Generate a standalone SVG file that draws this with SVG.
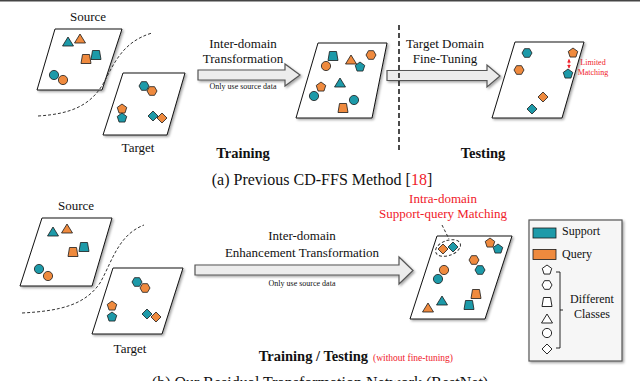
<svg xmlns="http://www.w3.org/2000/svg" xmlns:xlink="http://www.w3.org/1999/xlink" width="640" height="381" viewBox="0 0 640 381">
<defs>
<style>
text{font-family:"Liberation Serif","Times New Roman",serif;fill:#111}
.lbl{font-size:13px;text-anchor:middle}
.sm{font-size:8px;text-anchor:middle}
.bold{font-size:14.5px;font-weight:bold;text-anchor:middle}
.red{fill:#f0202a}
.plane{fill:#fff;stroke:#111;stroke-width:1;filter:url(#sh)}
.t{fill:#1d9aa9;stroke:#1a1a1a;stroke-width:0.8}
.o{fill:#ef8a3e;stroke:#1a1a1a;stroke-width:0.8}
.w{fill:#fff;stroke:#111;stroke-width:0.9}
.arrow{fill:#ececec;stroke:#555;stroke-width:1.2;filter:url(#sh)}
.dash{fill:none;stroke:#333;stroke-width:1;stroke-dasharray:3,2}
</style>
<filter id="sh" x="-10%" y="-10%" width="130%" height="130%">
<feDropShadow dx="1.5" dy="1.5" stdDeviation="0.8" flood-color="#000" flood-opacity="0.35"/>
</filter>
<path id="tri" d="M0,-5 L5.5,4 L-5.5,4Z"/>
<path id="trap" d="M-3.5,-4.5 L3.5,-4.5 L5,4.5 L-5,4.5Z"/>
<circle id="circ" r="4.6"/>
<path id="hex" d="M5,0 L2.5,4.33 L-2.5,4.33 L-5,0 L-2.5,-4.33 L2.5,-4.33Z"/>
<path id="pent" d="M0,-5 L4.76,-1.55 L2.94,4.05 L-2.94,4.05 L-4.76,-1.55Z"/>
<path id="dia" d="M0,-5 L5,0 L0,5 L-5,0Z"/>
<marker id="ra" viewBox="0 0 6 6" refX="5" refY="3" markerWidth="4" markerHeight="4" orient="auto-start-reverse">
<path d="M0,0 L6,3 L0,6Z" fill="#f0202a"/>
</marker>
</defs>
<rect width="640" height="381" fill="#fff"/>
<line x1="0" y1="0.8" x2="640" y2="0.8" stroke="#444" stroke-width="1.6"/>

<!-- ===== (a) ===== -->
<g id="a-source">
<text class="lbl" x="88" y="21">Source</text>
<polygon class="plane" points="55,29 122,29 102,90 37,90"/>
<use href="#tri" class="t" x="68" y="42"/>
<use href="#tri" class="o" x="80" y="39"/>
<use href="#trap" class="o" x="86" y="59"/>
<use href="#trap" class="t" x="96" y="55"/>
<use href="#circ" class="t" x="54" y="75"/>
<use href="#circ" class="o" x="63" y="80"/>
</g>
<g id="a-target">
<polygon class="plane" points="123,73 185,73 167,135 103,135"/>
<use href="#hex" class="t" x="144" y="86"/>
<use href="#hex" class="o" x="152" y="91"/>
<use href="#pent" class="o" x="122" y="109"/>
<use href="#pent" class="t" x="122" y="118"/>
<use href="#dia" class="t" x="153" y="116"/>
<use href="#dia" class="o" x="162" y="118"/>
<text class="lbl" x="138" y="152">Target</text>
</g>
<g id="a-transformed">
<polygon class="plane" points="318,43 387,43 372,118 296,118"/>
<use href="#trap" class="t" x="333" y="56"/>
<use href="#circ" class="o" x="326" y="66"/>
<use href="#tri" class="o" x="351" y="60"/>
<use href="#pent" class="t" x="360" y="67"/>
<use href="#hex" class="o" x="371" y="55"/>
<use href="#pent" class="o" x="321" y="87"/>
<use href="#circ" class="t" x="314" y="96"/>
<use href="#tri" class="t" x="340" y="83"/>
<use href="#circ" class="t" x="354" y="100"/>
<use href="#trap" class="o" x="343" y="108"/>
</g>
<g id="a-testing">
<polygon class="plane" points="515,42 584,42 562,118 492,118"/>
<use href="#hex" class="t" x="527" y="53"/>
<use href="#hex" class="o" x="519" y="70"/>
<use href="#pent" class="o" x="573" y="53"/>
<use href="#pent" class="t" x="568" y="74"/>
<use href="#dia" class="o" x="543" y="97"/>
<use href="#dia" class="t" x="532" y="109"/>
<text class="red" x="593" y="65" style="font-size:8px;text-anchor:middle;fill:#f0202a">Limited</text>
<text class="red" x="593" y="75" style="font-size:8px;text-anchor:middle;fill:#f0202a">Matching</text>
</g>
<g id="a-labels">
<text class="lbl" x="243" y="48">Inter-domain</text>
<text class="lbl" x="243" y="63">Transformation</text>
<text class="sm" x="243" y="89">Only use source data</text>
<text class="lbl" x="445" y="48">Target Domain</text>
<text class="lbl" x="445" y="63">Fine-Tuning</text>
<text class="bold" x="243" y="158">Training</text>
<text class="bold" x="483" y="158">Testing</text>
<text x="322" y="185" style="font-size:16px;text-anchor:middle">(a) Previous CD-FFS Method [<tspan fill="#f0202a">18</tspan>]</text>
</g>

<!-- ===== (b) ===== -->
<g id="b-source">
<text class="lbl" x="76" y="210">Source</text>
<polygon class="plane" points="42,218 112,218 92,286 20,286"/>
<use href="#tri" class="t" x="53" y="232"/>
<use href="#tri" class="o" x="67" y="229"/>
<use href="#trap" class="o" x="73" y="252"/>
<use href="#trap" class="t" x="84" y="247"/>
<use href="#circ" class="t" x="39" y="269"/>
<use href="#circ" class="o" x="48" y="276"/>
</g>
<g id="b-target">
<polygon class="plane" points="113,268 183,268 162,334 92,334"/>
<use href="#hex" class="t" x="137" y="282"/>
<use href="#hex" class="o" x="145" y="288"/>
<use href="#pent" class="o" x="112" y="306"/>
<use href="#pent" class="t" x="112" y="317"/>
<use href="#dia" class="t" x="147" y="314"/>
<use href="#dia" class="o" x="156" y="317"/>
<text class="lbl" x="130" y="353">Target</text>
</g>
<g id="b-result">
<polygon class="plane" points="437,236 512,236 485,319 410,319"/>
<use href="#dia" class="o" x="443" y="249"/>
<use href="#dia" class="t" x="453" y="247"/>
<use href="#pent" class="o" x="490" y="243"/>
<use href="#pent" class="t" x="498" y="249"/>
<use href="#hex" class="o" x="474" y="260"/>
<use href="#hex" class="t" x="480" y="270"/>
<use href="#circ" class="o" x="444" y="270"/>
<use href="#circ" class="t" x="438" y="279"/>
<use href="#trap" class="o" x="476" y="294"/>
<use href="#trap" class="t" x="469" y="305"/>
<use href="#tri" class="t" x="442" y="301"/>
<use href="#tri" class="o" x="428" y="308"/>
<ellipse cx="448" cy="248" rx="13" ry="7.5" transform="rotate(-20 448 248)" class="dash"/>
<line x1="442" y1="225" x2="449" y2="239" class="dash"/>
<text x="443" y="203" style="font-size:13px;text-anchor:middle;fill:#f0202a">Intra-domain</text>
<text x="443" y="218" style="font-size:13px;text-anchor:middle;fill:#f0202a">Support-query Matching</text>
</g>
<g id="b-labels">
<text class="lbl" x="302" y="240">Inter-domain</text>
<text class="lbl" x="302" y="257">Enhancement Transformation</text>
<text class="sm" x="302" y="286">Only use source data</text>
<text x="308" y="361" style="font-size:14.5px;font-weight:bold;text-anchor:end" dx="60">Training / Testing</text>
<text x="373" y="361" style="font-size:9.5px;fill:#f0202a">(without fine-tuning)</text>
<text x="320" y="388" style="font-size:16px;text-anchor:middle">(b) Our Residual Transformation Network (RestNet)</text>
</g>
<g id="legend">
<rect x="529" y="220" width="93" height="141" fill="#f6f6f6" stroke="#555" stroke-width="1.2" filter="url(#sh)"/>
<rect x="533" y="228" width="23" height="10" class="t"/>
<text x="562" y="235" style="font-size:12px">Support</text>
<rect x="533" y="249.5" width="23" height="10" class="o"/>
<text x="562" y="258" style="font-size:12px">Query</text>
<use href="#pent" class="w" x="547" y="270"/>
<use href="#hex" class="w" x="547" y="285"/>
<use href="#trap" class="w" x="547" y="302"/>
<use href="#tri" class="w" x="547" y="319"/>
<use href="#circ" class="w" x="547" y="333"/>
<use href="#dia" class="w" x="547" y="349"/>
<path d="M556,272 H560 V348 H556 M560,310 H563" fill="none" stroke="#111" stroke-width="0.9"/>
<text x="592" y="303" style="font-size:12px;text-anchor:middle">Different</text>
<text x="592" y="318" style="font-size:12px;text-anchor:middle">Classes</text>
</g>

<g id="connectors">
<path class="dash" d="M38,116 C70,114 90,106 103,84 C114,64 122,42 152,33"/>
<path class="dash" d="M22,313 C60,311 85,305 100,283 C112,262 118,235 144,225"/>
<polygon class="arrow" points="198,70 285,70 285,64 300,75 285,86 285,80 198,80"/>
<polygon class="arrow" points="387,70.5 487,70.5 487,65 500,76 487,87 487,80.5 387,80.5"/>
<line x1="399" y1="25" x2="399" y2="153" stroke="#111" stroke-width="1.5" stroke-dasharray="5,3"/>
<line x1="569" y1="59.5" x2="569" y2="68" stroke="#f0202a" stroke-width="0.9" stroke-dasharray="1.5,1" marker-start="url(#ra)" marker-end="url(#ra)"/>
<polygon class="arrow" points="195,265 399,265 399,257 413,270.5 399,284 399,275 195,275"/>
</g>
</svg>
